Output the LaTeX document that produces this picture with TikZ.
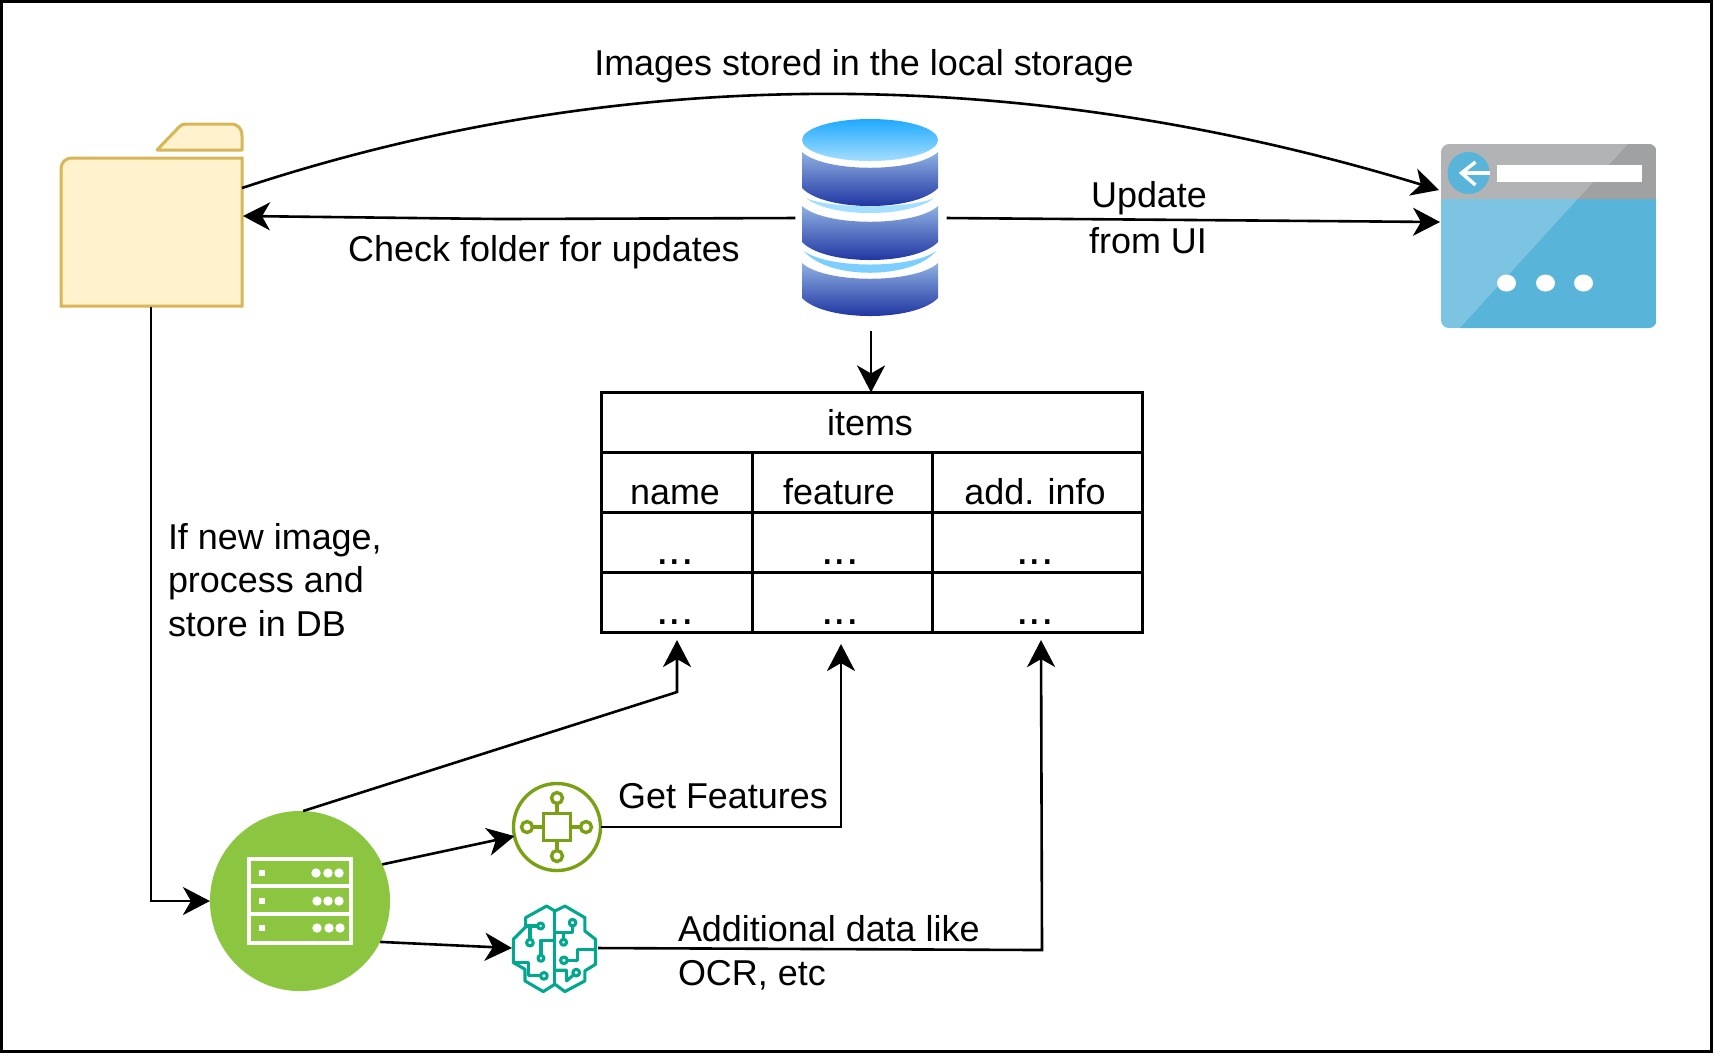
\documentclass[tikz,border=0pt]{standalone}
\usepackage{fontspec}
\setmainfont{Liberation Sans}
\usetikzlibrary{arrows.meta}
\definecolor{folderfill}{HTML}{FFF2CC}
\definecolor{folderline}{HTML}{D6B656}
\definecolor{serverfill}{HTML}{8CC540}
\definecolor{hubline}{HTML}{7AA116}
\definecolor{brainline}{HTML}{01A88D}
\definecolor{pagelight}{HTML}{7CC4E2}
\definecolor{pagedark}{HTML}{59B4D9}
\definecolor{barlight}{HTML}{B1B3B5}
\definecolor{bardark}{HTML}{A0A1A2}
\definecolor{dbsky}{HTML}{1EA9FF}
\definecolor{dbpale}{HTML}{A5DEFF}
\definecolor{dbband}{HTML}{8FB0E2}
\definecolor{dbnavy}{HTML}{14289B}
\newcommand{\dbring}[2]{\shade[top color=dbband,bottom color=dbnavy] (802,#1) .. controls (825,#1+21) and (915,#1+21) .. (938,#1) -- (938,#2) .. controls (915,#2+24) and (825,#2+24) .. (802,#2) -- cycle;}
\begin{document}
\begin{tikzpicture}[
						x=0.01cm,y=-0.01cm,
						iconbox/.style={inner sep=0pt, outer sep=0pt},
						txt/.style={font=\fontsize{10.22}{12.4}\selectfont, inner sep=0pt, outer sep=0pt},
						dots/.style={font=\fontsize{12.8}{12.4}\selectfont, inner sep=0pt, outer sep=0pt},
						link/.style={line width=0.026cm, -{Stealth[length=0.27cm,width=0.28cm,inset=0.08cm]}},
						tableline/.style={line width=0.03cm},
						hubstroke/.style={draw=hubline, line width=0.034cm},
						rackstroke/.style={white, line width=0.032cm},
						brainstroke/.style={draw=brainline, line width=0.031cm, line join=round},
						]
						\useasboundingbox (0,0) rectangle (1713,1053);
						\draw[line width=0.03cm] (1.5,1.5) rectangle (1711.5,1051.5);

						\begin{scope}[shift={(0,1)}]
						%Nodes
						\node[iconbox, minimum width=1.81cm, minimum height=1.48cm] (folder) at (151,231.5) {};
						\node[iconbox, minimum width=1.51cm, minimum height=2.26cm] (db) at (871,217) {};
						\node[iconbox, minimum width=2.155cm, minimum height=1.84cm] (browser) at (1549.5,236) {};
						\node[iconbox, draw, tableline, minimum width=5.4cm, minimum height=2.4cm] (tbl) at (872,511.5) {};
						\node[iconbox, circle, fill=serverfill, minimum size=1.8cm] (server) at (300,900) {};
						\node[iconbox, circle, hubstroke, fill=white, minimum size=0.87cm] (hub) at (557,826) {};
						\node[iconbox, minimum width=0.86cm, minimum height=0.86cm] (brain) at (555,947) {};

						\coordinate (folderout) at (242,187);
						\coordinate (folderin) at (243,215);
						\coordinate (dbbend) at (500,218);
						\coordinate (browsertop) at (1439,189);
						\coordinate (browserin) at (1440,221);
						\coordinate (namebend) at (677,691);
						\coordinate (nametip) at (677,639);
						\coordinate (featurebend) at (841,826);
						\coordinate (featuretip) at (841,643);
						\coordinate (infobend) at (1042,949);
						\coordinate (infotip) at (1041,639);

						\node[txt, anchor=base] (storedlabel) at (864,74.5) {Images stored in the local storage};
						\node[txt, anchor=base] (checklabel) at (544,260) {Check folder for updates};
						\node[txt, anchor=base] (updatelabel) at (1149,206.5) {Update};
						\node[txt, anchor=base] (uilabel) at (1148,252) {from UI};
						\node[txt, anchor=west, align=left] (newlabel) at (168,579) {If new image,\\process and\\store in DB};
						\node[txt, anchor=base] (getlabel) at (723,807) {Get Features};
						\node[txt, anchor=west, align=left] (addlabel) at (678,952) {Additional data like\\OCR, etc};

						\node[txt, anchor=base] (items) at (870,434) {items};
						\node[txt, anchor=base] (colname) at (675,503) {name};
						\node[txt, anchor=base] (colfeature) at (839,503) {feature};
						\node[txt, anchor=base] (colinfo) at (1035,503) {add. info};
						\node[dots, anchor=base] (dotsa) at (675,563) {...};
						\node[dots, anchor=base] (dotsb) at (840,563) {...};
						\node[dots, anchor=base] (dotsc) at (1035,563) {...};
						\node[dots, anchor=base] (dotsd) at (675,623) {...};
						\node[dots, anchor=base] (dotse) at (840,623) {...};
						\node[dots, anchor=base] (dotsf) at (1035,623) {...};

						%Table lines
						\draw[tableline] (tbl.west |- 0,451) -- (tbl.east |- 0,451);
						\draw[tableline] (tbl.west |- 0,511) -- (tbl.east |- 0,511);
						\draw[tableline] (tbl.west |- 0,571) -- (tbl.east |- 0,571);
						\draw[tableline] (752,451) -- (752,631.5);
						\draw[tableline] (932,451) -- (932,631.5);

						%Folder
						\draw[draw=folderline, fill=folderfill, line width=0.03cm] (61,305) -- (61,169) .. controls (61,161) and (65,157) .. (73,157) -- (242,157) -- (242,305) -- cycle;
						\draw[draw=folderline, fill=folderfill, line width=0.03cm, line join=round] (157,149) -- (179,126) .. controls (181,124) and (183,123) .. (186,123) -- (230,123) .. controls (238,123) and (242,127) .. (242,135) -- (242,149) -- cycle;

						%Database
						\shade[top color=dbsky, bottom color=dbpale] (870,139) ellipse (68 and 21);
						\dbring{151}{187}
						\fill[dbpale] (806,197) .. controls (830,217) and (910,217) .. (934,197) .. controls (910,208) and (830,208) .. (806,197) -- cycle;
						\dbring{205}{241}
						\fill[dbpale!70!dbsky] (804,250) .. controls (828,279) and (912,279) .. (936,250) .. controls (912,268) and (828,268) .. (804,250) -- cycle;
						\dbring{262}{297}

						%Browser
						\begin{scope}
							\clip[rounded corners=0.08cm] (1441,143) rectangle (1656.5,327);
							\fill[pagelight] (1441,198) rectangle (1656.5,327);
							\fill[pagedark] (1460,327) -- (1628,143) -- (1656.5,143) -- (1656.5,327) -- cycle;
							\fill[barlight] (1441,143) rectangle (1656.5,198);
							\fill[bardark] (1578,198) -- (1628,143) -- (1656.5,143) -- (1656.5,198) -- cycle;
						\end{scope}
						\fill[pagedark] (1468.5,172) circle (21);
						\draw[white, line width=0.035cm] (1475.5,161) -- (1461.5,172) -- (1475.5,184);
						\draw[white, line width=0.035cm] (1461.5,172) -- (1489.5,172);
						\fill[white] (1496.5,164) rectangle (1641.5,181);
						\fill[white] (1506.5,282) ellipse (9.5 and 8.5);
						\fill[white] (1545.5,282) ellipse (9.5 and 8.5);
						\fill[white] (1583.5,282) ellipse (9.5 and 8.5);

						%Server rack
						\draw[rackstroke] (249,858) rectangle (351,942);
						\draw[rackstroke] (249,885) -- (351,885);
						\draw[rackstroke] (249,913) -- (351,913);
						\fill[white] (259,869) rectangle (265,875);
						\fill[white] (259,897) rectangle (265,903);
						\fill[white] (259,924) rectangle (265,930);
						\fill[white] (316,872) circle (4.7);
						\fill[white] (328,872) circle (4.7);
						\fill[white] (339,872) circle (4.7);
						\fill[white] (317,900) circle (4.7);
						\fill[white] (328,900) circle (4.7);
						\fill[white] (339,900) circle (4.7);
						\fill[white] (317,927) circle (4.7);
						\fill[white] (329,927) circle (4.7);
						\fill[white] (340,927) circle (4.7);

						%Hub
						\draw[hubstroke] (543.5,812.5) rectangle (570.5,839.5);
						\draw[hubstroke] (557,802.5) -- (557,812.5);
						\draw[hubstroke] (557,839.5) -- (557,849.5);
						\draw[hubstroke] (532.5,826) -- (543.5,826);
						\draw[hubstroke] (570.5,826) -- (580.5,826);
						\draw[hubstroke] (557,797) circle (5.5);
						\draw[hubstroke] (557,855) circle (5.5);
						\draw[hubstroke] (527,826) circle (5.5);
						\draw[hubstroke] (586,826) circle (5.5);

						%Brain
						\begin{scope}[shift={(505,900)},x=0.00333cm,y=-0.00333cm]
							\draw[brainstroke] (150,30) -- (125,15) -- (62,50) -- (62,78) -- (25,115) -- (25,185) -- (60,205) -- (60,240) -- (115,272) -- (150,250) -- (180,272) -- (240,240) -- (240,210) -- (272,190) -- (272,115) -- (240,90) -- (240,50) -- (180,15) -- cycle;
							\draw[brainstroke] (150,30) -- (150,250);
							\draw[brainstroke] (98,75) -- (62,75);
							\draw[brainstroke] (75,75) -- (75,115);
							\draw[brainstroke] (107,75) circle (9);
							\draw[brainstroke] (75,125) circle (10);
							\draw[brainstroke] (108,163) -- (108,118) -- (150,118);
							\draw[brainstroke] (108,172) circle (9);
							\draw[brainstroke] (107,225) -- (70,225) -- (70,185) -- (30,185);
							\draw[brainstroke] (117,225) circle (10);
							\draw[brainstroke] (203,75) -- (203,95) -- (150,95);
							\draw[brainstroke] (203,65) circle (10);
							\draw[brainstroke] (176,95) -- (176,115);
							\draw[brainstroke] (176,124) circle (9);
							\draw[brainstroke] (187,178) -- (218,178) -- (218,145) -- (272,145);
							\draw[brainstroke] (177,178) circle (10);
							\draw[brainstroke] (206,222) -- (185,240) -- (185,208) -- (150,208);
							\draw[brainstroke] (214,215) circle (10);
						\end{scope}

						%Connectors
						\draw[link] (folderout) .. controls (620,62) and (1023,62) .. (browsertop);
						\draw[link] (db.west) -- (dbbend) -- (folderin);
						\draw[link] (db.east) -- (browserin);
						\draw[link] (db.south) -- (db.south |- tbl.north);
						\draw[link] (folder.south) |- (server.west);
						\draw[link] (server.88) -- (namebend) -- (nametip);
						\draw[link] (server.24) -- (hub.192);
						\draw[link] (server.-27) -- (brain.west);
						\draw[link] (hub.east) -- (featurebend) -- (featuretip);
						\draw[link] (brain.east) -- (infobend) -- (infotip);
						\end{scope}
					\end{tikzpicture}
\end{document}
